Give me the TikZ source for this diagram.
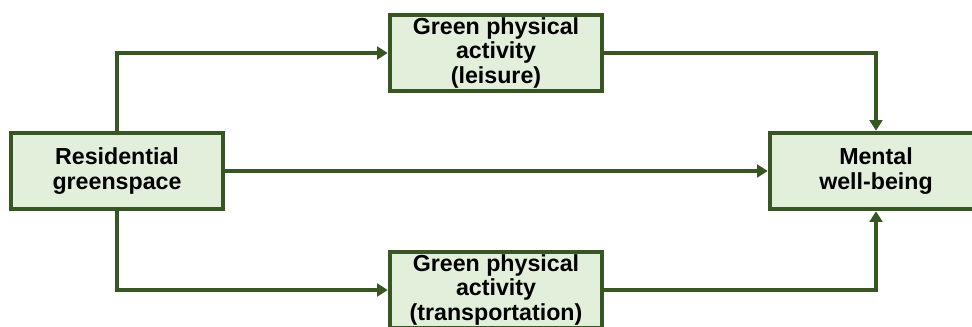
\documentclass[tikz,border=0pt]{standalone}
\usepackage{fontspec}
\setmainfont{Liberation Sans}
\usetikzlibrary{arrows.meta}
\definecolor{boxline}{HTML}{375623}
\definecolor{boxfill}{HTML}{E2EFDA}
\tikzset{
  varbox/.style={draw=boxline, fill=boxfill, line width=3.2pt,
    minimum width=5.3cm, minimum height=1.9cm, align=center,
    font=\fontsize{16.5}{17.5}\selectfont\bfseries, inner sep=0pt},
  link/.style={draw=boxline, line width=2.85pt,
    -{Triangle[length=7.5pt,width=9pt]}}
}
\begin{document}
\begin{tikzpicture}[x=0.025cm, y=-0.025cm]
  \useasboundingbox (0,0) rectangle (972,327);
  \clip (0,0) rectangle (972,327);
  \node [varbox] (green) at (117,171) {Residential\\greenspace};
  \node [varbox] (leisure) at (496,53) {Green physical\\activity\\(leisure)};
  \node [varbox] (transport) at (496,290) {Green physical\\activity\\(transportation)};
  \node [varbox] (mental) at (876,171) {Mental\\well-being};
  %% paths through the two mediators
  \draw [link] (green.north) |- (leisure.west);
  \draw [link] (leisure.east) -| (mental.north);
  \draw [link] (green.south) |- (transport.west);
  \draw [link] (transport.east) -| (mental.south);
  %% direct path
  \draw [link] (green.east) -- (mental.west);
\end{tikzpicture}
\end{document}
